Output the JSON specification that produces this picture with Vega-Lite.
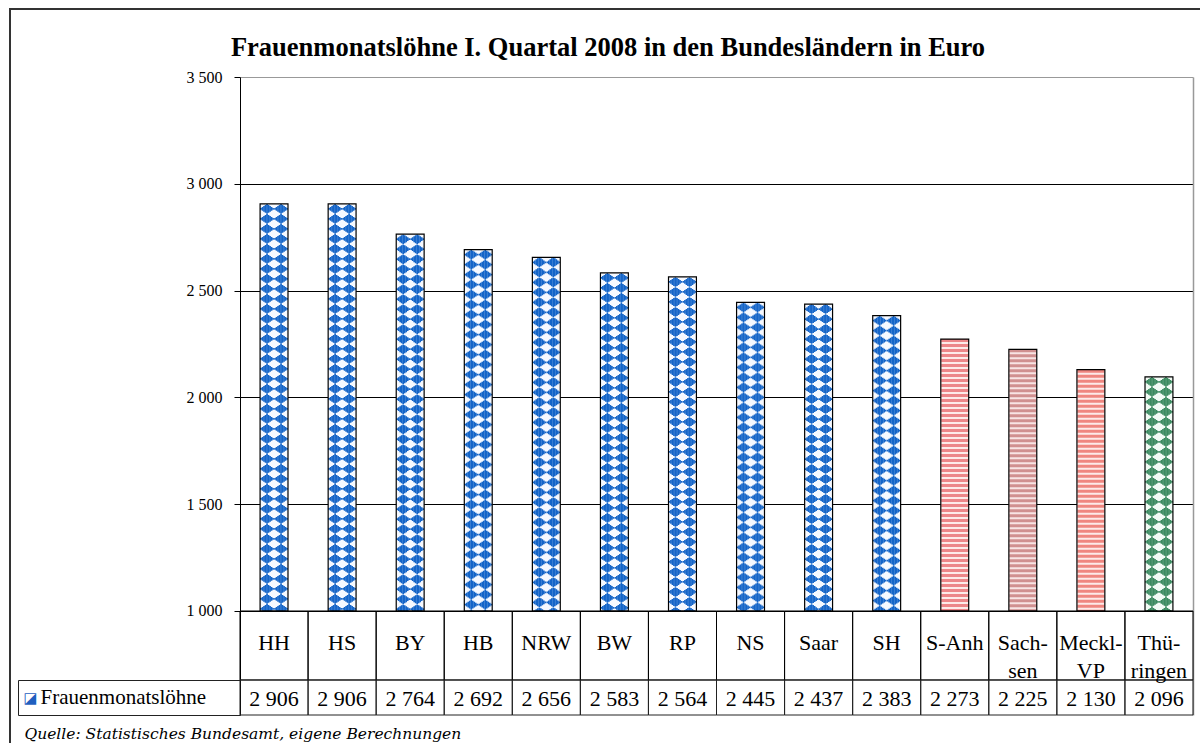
{
  "$schema": "https://vega.github.io/schema/vega-lite/v6.json",
  "width": 1192,
  "height": 736,
  "autosize": {"type": "none"},
  "padding": {"left": 10, "top": 9, "right": -2, "bottom": -2},
  "background": "white",
  "title": {
    "text": "Frauenmonatslöhne I. Quartal 2008 in den Bundesländern in Euro",
    "font": "Liberation Serif",
    "fontSize": 26.5,
    "fontWeight": "bold",
    "color": "black",
    "anchor": "middle",
    "frame": "group",
    "orient": "top",
    "baseline": "alphabetic",
    "offset": 0,
    "dy": 73,
    "dx": 2
  },
  "data": {
    "values": [
      {"land": "HH", "label": "HH", "value": 2906, "region": "West"},
      {"land": "HS", "label": "HS", "value": 2906, "region": "West"},
      {"land": "BY", "label": "BY", "value": 2764, "region": "West"},
      {"land": "HB", "label": "HB", "value": 2692, "region": "West"},
      {"land": "NRW", "label": "NRW", "value": 2656, "region": "West"},
      {"land": "BW", "label": "BW", "value": 2583, "region": "West"},
      {"land": "RP", "label": "RP", "value": 2564, "region": "West"},
      {"land": "NS", "label": "NS", "value": 2445, "region": "West"},
      {"land": "Saar", "label": "Saar", "value": 2437, "region": "West"},
      {"land": "SH", "label": "SH", "value": 2383, "region": "West"},
      {"land": "S-Anh", "label": "S-Anh", "value": 2273, "region": "Ost"},
      {"land": "Sachsen", "label": "Sach-\nsen", "value": 2225, "region": "Ost"},
      {"land": "Meckl-VP", "label": "Meckl-\nVP", "value": 2130, "region": "Ost"},
      {"land": "Thüringen", "label": "Thü-\nringen", "value": 2096, "region": "Ost"}
    ]
  },
  "encoding": {
    "x": {
      "field": "land",
      "type": "nominal",
      "sort": null,
      "scale": {
        "domain": ["HH", "HS", "BY", "HB", "NRW", "BW", "RP", "NS", "Saar", "SH", "S-Anh", "Sachsen", "Meckl-VP", "Thüringen"],
        "range": [230, 1183],
        "paddingInner": 0,
        "paddingOuter": 0
      },
      "axis": {
        "orient": "bottom",
        "labels": false,
        "ticks": false,
        "domain": false,
        "grid": false,
        "title": "Quelle: Statistisches Bundesamt, eigene Berechnungen",
        "titleFont": "DejaVu Serif",
        "titleFontStyle": "italic",
        "titleFontWeight": "normal",
        "titleFontSize": 15.5,
        "titleColor": "black",
        "titleAnchor": "start",
        "titleAlign": "left",
        "titleBaseline": "alphabetic",
        "titleX": 14,
        "titleY": -7
      }
    }
  },
  "layer": [
    {
      "mark": {"type": "bar", "width": {"band": 0.41}, "strokeWidth": 0},
      "encoding": {
        "y": {
          "field": "value",
          "type": "quantitative",
          "scale": {"domain": [513.1, 3500], "range": [706, 68], "nice": false, "zero": false},
          "axis": {
            "orient": "left",
            "offset": -230,
            "values": [1000, 1500, 2000, 2500, 3000, 3500],
            "labelExpr": "format(datum.value, ',')",
            "tickSize": 6,
            "tickColor": "black",
            "labelPadding": 12,
            "labelFont": "Liberation Serif",
            "labelFontSize": 16,
            "labelColor": "black",
            "labelBaseline": "middle",
            "labelOverlap": false,
            "labelFlush": false,
            "domain": true,
            "domainColor": "black",
            "domainWidth": 1,
            "grid": true,
            "gridColor": {"condition": {"test": "datum.value === 3500", "value": "#999999"}, "value": "black"},
            "gridWidth": 1,
            "title": null
          }
        },
        "y2": {"datum": 1000},
        "fill": {
          "condition": [
            {"test": "datum.land === 'Thüringen'", "value": "#f2fbf5"},
            {"test": "datum.land === 'Sachsen'", "value": "#f8e4e4"},
            {"test": "datum.region === 'Ost'", "value": "#fdeae9"}
          ],
          "value": "#f6f9ff"
        }
      }
    },
    {
      "transform": [{"filter": "datum.region === 'Ost' && datum.land !== 'Thüringen'"}],
      "mark": {"type": "rule", "strokeWidth": 27, "strokeDash": [3, 2]},
      "encoding": {
        "y": {"field": "value", "type": "quantitative", "axis": null},
        "y2": {"datum": 1000},
        "stroke": {
          "condition": [
            {"test": "datum.land === 'Sachsen'", "value": "#d09090"},
            {"test": "datum.land === 'Meckl-VP'", "value": "#ef8680"}
          ],
          "value": "#ec8689"
        }
      }
    },
    {"transform": [{"filter": "datum.region === 'West' || datum.land === 'Thüringen'"}], "mark": {"type": "rule", "xOffset": -7, "strokeWidth": 1.7, "strokeDash": [9.6, 0.4], "strokeDashOffset": 9.8}, "encoding": {"y": {"field": "value", "type": "quantitative", "axis": null}, "y2": {"datum": 1000}, "stroke": {"condition": {"test": "datum.land === 'Thüringen'", "value": "#3a8a5f"}, "value": "#1565c8"}}},
    {"transform": [{"filter": "datum.region === 'West' || datum.land === 'Thüringen'"}], "mark": {"type": "rule", "xOffset": -8.5, "strokeWidth": 1.7, "strokeDash": [7.9, 2.1], "strokeDashOffset": 8.95}, "encoding": {"y": {"field": "value", "type": "quantitative", "axis": null}, "y2": {"datum": 1000}, "stroke": {"condition": {"test": "datum.land === 'Thüringen'", "value": "#3a8a5f"}, "value": "#1565c8"}}},
    {"transform": [{"filter": "datum.region === 'West' || datum.land === 'Thüringen'"}], "mark": {"type": "rule", "xOffset": -5.5, "strokeWidth": 1.7, "strokeDash": [7.9, 2.1], "strokeDashOffset": 8.95}, "encoding": {"y": {"field": "value", "type": "quantitative", "axis": null}, "y2": {"datum": 1000}, "stroke": {"condition": {"test": "datum.land === 'Thüringen'", "value": "#3a8a5f"}, "value": "#1565c8"}}},
    {"transform": [{"filter": "datum.region === 'West' || datum.land === 'Thüringen'"}], "mark": {"type": "rule", "xOffset": -10, "strokeWidth": 1.7, "strokeDash": [5.9, 4.1], "strokeDashOffset": 7.95}, "encoding": {"y": {"field": "value", "type": "quantitative", "axis": null}, "y2": {"datum": 1000}, "stroke": {"condition": {"test": "datum.land === 'Thüringen'", "value": "#3a8a5f"}, "value": "#1565c8"}}},
    {"transform": [{"filter": "datum.region === 'West' || datum.land === 'Thüringen'"}], "mark": {"type": "rule", "xOffset": -4, "strokeWidth": 1.7, "strokeDash": [5.9, 4.1], "strokeDashOffset": 7.95}, "encoding": {"y": {"field": "value", "type": "quantitative", "axis": null}, "y2": {"datum": 1000}, "stroke": {"condition": {"test": "datum.land === 'Thüringen'", "value": "#3a8a5f"}, "value": "#1565c8"}}},
    {"transform": [{"filter": "datum.region === 'West' || datum.land === 'Thüringen'"}], "mark": {"type": "rule", "xOffset": -11.5, "strokeWidth": 1.7, "strokeDash": [3.8, 6.2], "strokeDashOffset": 6.9}, "encoding": {"y": {"field": "value", "type": "quantitative", "axis": null}, "y2": {"datum": 1000}, "stroke": {"condition": {"test": "datum.land === 'Thüringen'", "value": "#3a8a5f"}, "value": "#1565c8"}}},
    {"transform": [{"filter": "datum.region === 'West' || datum.land === 'Thüringen'"}], "mark": {"type": "rule", "xOffset": -2.5, "strokeWidth": 1.7, "strokeDash": [3.8, 6.2], "strokeDashOffset": 6.9}, "encoding": {"y": {"field": "value", "type": "quantitative", "axis": null}, "y2": {"datum": 1000}, "stroke": {"condition": {"test": "datum.land === 'Thüringen'", "value": "#3a8a5f"}, "value": "#1565c8"}}},
    {"transform": [{"filter": "datum.region === 'West' || datum.land === 'Thüringen'"}], "mark": {"type": "rule", "xOffset": -13, "strokeWidth": 1.7, "strokeDash": [1.7, 8.3], "strokeDashOffset": 5.85}, "encoding": {"y": {"field": "value", "type": "quantitative", "axis": null}, "y2": {"datum": 1000}, "stroke": {"condition": {"test": "datum.land === 'Thüringen'", "value": "#3a8a5f"}, "value": "#1565c8"}}},
    {"transform": [{"filter": "datum.region === 'West' || datum.land === 'Thüringen'"}], "mark": {"type": "rule", "xOffset": -1, "strokeWidth": 1.7, "strokeDash": [1.7, 8.3], "strokeDashOffset": 5.85}, "encoding": {"y": {"field": "value", "type": "quantitative", "axis": null}, "y2": {"datum": 1000}, "stroke": {"condition": {"test": "datum.land === 'Thüringen'", "value": "#3a8a5f"}, "value": "#1565c8"}}},
    {"transform": [{"filter": "datum.region === 'West' || datum.land === 'Thüringen'"}], "mark": {"type": "rule", "xOffset": 7, "strokeWidth": 1.7, "strokeDash": [9.6, 0.4], "strokeDashOffset": 9.8}, "encoding": {"y": {"field": "value", "type": "quantitative", "axis": null}, "y2": {"datum": 1000}, "stroke": {"condition": {"test": "datum.land === 'Thüringen'", "value": "#3a8a5f"}, "value": "#1565c8"}}},
    {"transform": [{"filter": "datum.region === 'West' || datum.land === 'Thüringen'"}], "mark": {"type": "rule", "xOffset": 5.5, "strokeWidth": 1.7, "strokeDash": [7.9, 2.1], "strokeDashOffset": 8.95}, "encoding": {"y": {"field": "value", "type": "quantitative", "axis": null}, "y2": {"datum": 1000}, "stroke": {"condition": {"test": "datum.land === 'Thüringen'", "value": "#3a8a5f"}, "value": "#1565c8"}}},
    {"transform": [{"filter": "datum.region === 'West' || datum.land === 'Thüringen'"}], "mark": {"type": "rule", "xOffset": 8.5, "strokeWidth": 1.7, "strokeDash": [7.9, 2.1], "strokeDashOffset": 8.95}, "encoding": {"y": {"field": "value", "type": "quantitative", "axis": null}, "y2": {"datum": 1000}, "stroke": {"condition": {"test": "datum.land === 'Thüringen'", "value": "#3a8a5f"}, "value": "#1565c8"}}},
    {"transform": [{"filter": "datum.region === 'West' || datum.land === 'Thüringen'"}], "mark": {"type": "rule", "xOffset": 4, "strokeWidth": 1.7, "strokeDash": [5.9, 4.1], "strokeDashOffset": 7.95}, "encoding": {"y": {"field": "value", "type": "quantitative", "axis": null}, "y2": {"datum": 1000}, "stroke": {"condition": {"test": "datum.land === 'Thüringen'", "value": "#3a8a5f"}, "value": "#1565c8"}}},
    {"transform": [{"filter": "datum.region === 'West' || datum.land === 'Thüringen'"}], "mark": {"type": "rule", "xOffset": 10, "strokeWidth": 1.7, "strokeDash": [5.9, 4.1], "strokeDashOffset": 7.95}, "encoding": {"y": {"field": "value", "type": "quantitative", "axis": null}, "y2": {"datum": 1000}, "stroke": {"condition": {"test": "datum.land === 'Thüringen'", "value": "#3a8a5f"}, "value": "#1565c8"}}},
    {"transform": [{"filter": "datum.region === 'West' || datum.land === 'Thüringen'"}], "mark": {"type": "rule", "xOffset": 2.5, "strokeWidth": 1.7, "strokeDash": [3.8, 6.2], "strokeDashOffset": 6.9}, "encoding": {"y": {"field": "value", "type": "quantitative", "axis": null}, "y2": {"datum": 1000}, "stroke": {"condition": {"test": "datum.land === 'Thüringen'", "value": "#3a8a5f"}, "value": "#1565c8"}}},
    {"transform": [{"filter": "datum.region === 'West' || datum.land === 'Thüringen'"}], "mark": {"type": "rule", "xOffset": 11.5, "strokeWidth": 1.7, "strokeDash": [3.8, 6.2], "strokeDashOffset": 6.9}, "encoding": {"y": {"field": "value", "type": "quantitative", "axis": null}, "y2": {"datum": 1000}, "stroke": {"condition": {"test": "datum.land === 'Thüringen'", "value": "#3a8a5f"}, "value": "#1565c8"}}},
    {"transform": [{"filter": "datum.region === 'West' || datum.land === 'Thüringen'"}], "mark": {"type": "rule", "xOffset": 1, "strokeWidth": 1.7, "strokeDash": [1.7, 8.3], "strokeDashOffset": 5.85}, "encoding": {"y": {"field": "value", "type": "quantitative", "axis": null}, "y2": {"datum": 1000}, "stroke": {"condition": {"test": "datum.land === 'Thüringen'", "value": "#3a8a5f"}, "value": "#1565c8"}}},
    {"transform": [{"filter": "datum.region === 'West' || datum.land === 'Thüringen'"}], "mark": {"type": "rule", "xOffset": 13, "strokeWidth": 1.7, "strokeDash": [1.7, 8.3], "strokeDashOffset": 5.85}, "encoding": {"y": {"field": "value", "type": "quantitative", "axis": null}, "y2": {"datum": 1000}, "stroke": {"condition": {"test": "datum.land === 'Thüringen'", "value": "#3a8a5f"}, "value": "#1565c8"}}},
    {
      "mark": {"type": "bar", "width": {"band": 0.41}, "fill": "transparent", "stroke": "black", "strokeWidth": 1.2},
      "encoding": {
        "y": {"field": "value", "type": "quantitative", "axis": null},
        "y2": {"datum": 1000}
      }
    },
    {
      "mark": {"type": "bar", "fill": "transparent", "stroke": "black", "strokeWidth": 1},
      "encoding": {
        "y": {
          "datum": 1000,
          "type": "quantitative",
          "axis": {
            "orient": "right",
            "offset": -9,
            "domain": true,
            "domainColor": "#999999",
            "domainWidth": 1.5,
            "ticks": false,
            "labels": false,
            "grid": false,
            "title": null
          }
        },
        "y2": {"datum": 677}
      }
    },
    {
      "mark": {"type": "bar", "fill": "transparent", "stroke": "#222222", "strokeWidth": 1},
      "encoding": {
        "y": {
          "datum": 677,
          "type": "quantitative",
          "axis": {
            "orient": "left",
            "offset": -8,
            "domain": true,
            "domainColor": "#222222",
            "domainWidth": 1,
            "domainDash": [35, 2000],
            "values": [513.1, 595, 677],
            "ticks": true,
            "tickSize": -222,
            "tickWidth": 1,
            "tickColor": {"condition": {"test": "datum.value === 595", "value": "transparent"}, "value": "#222222"},
            "labels": true,
            "labelExpr": "datum.value === 595 ? 'Frauenmonatslöhne' : ''",
            "labelAlign": "left",
            "labelBaseline": "middle",
            "labelFont": "Liberation Serif",
            "labelFontSize": 21,
            "labelColor": "black",
            "labelPadding": 200,
            "labelOverlap": false,
            "labelFlush": false,
            "labelBound": false,
            "grid": false,
            "title": "◪",
            "titleColor": "#1f5fbf",
            "titleFont": "DejaVu Sans",
            "titleFontSize": 15,
            "titleFontWeight": "normal",
            "titleAngle": 0,
            "titleAlign": "center",
            "titleBaseline": "middle",
            "titleX": 12,
            "titleY": 688.5
          }
        },
        "y2": {"datum": 513.1}
      }
    },
    {
      "mark": {"type": "text", "font": "Liberation Serif", "fontSize": 22, "lineBreak": "\n", "lineHeight": 28, "baseline": "middle", "align": "center", "dy": -2, "color": "black"},
      "encoding": {
        "y": {"datum": 838.5, "type": "quantitative", "axis": null},
        "text": {"field": "label"}
      }
    },
    {
      "mark": {"type": "text", "font": "Liberation Serif", "fontSize": 22, "baseline": "middle", "align": "center", "dy": 1, "color": "black"},
      "encoding": {
        "y": {"datum": 595, "type": "quantitative", "axis": null},
        "text": {"field": "value", "type": "quantitative", "format": ","}
      }
    }
  ],
  "resolve": {"axis": {"y": "independent"}},
  "config": {
    "font": "Liberation Serif",
    "view": {"stroke": "#333333", "strokeWidth": 2},
    "locale": {
      "number": {"decimal": ",", "thousands": " ", "grouping": [3], "currency": ["", " €"]}
    }
  }
}
